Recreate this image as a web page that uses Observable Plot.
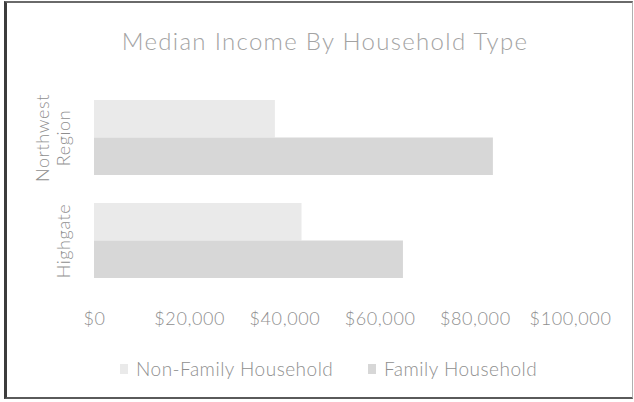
<!DOCTYPE html>
<html>
<head>
<meta charset="utf-8">
<script src="https://cdn.jsdelivr.net/npm/d3@7"></script>
<script src="https://cdn.jsdelivr.net/npm/@observablehq/plot@0.6"></script>
<style>
  html, body { margin: 0; padding: 0; background: #fff; }
  #wrap { position: relative; width: 634px; height: 402px; overflow: hidden; }
  #frame { position: absolute; left: 4px; top: 1px; width: 629px; height: 398px; box-sizing: border-box;
           border-left: 3px solid #3c3c3c; border-top: 2px solid #6a6a6a; border-bottom: 2px solid #5a5a5a; border-right: 1px solid #b0b0b0; }
  #title { position: absolute; left: 0; top: 26px; width: 650px; text-align: center;
           font-family: Lato, "Open Sans", sans-serif; font-weight: 300; font-size: 24px; color: #a3a3a3; letter-spacing: 1.3px; }
  #chart { position: absolute; left: 0; top: 0; }
  .leg { position: absolute; top: 357px; font-family: Lato, "Open Sans", sans-serif; font-weight: 300; font-size: 19px; letter-spacing: 0.5px; color: #8f8f8f; white-space: nowrap; display: flex; align-items: center; }
  .sw { display: inline-block; width: 8px; height: 10px; margin-right: 8px; }
  #chart text { letter-spacing: 0.6px; }
</style>
</head>
<body>
<div id="wrap">
  <div id="frame"></div>
  <div id="chart"></div>
  <div id="title">Median Income By Household Type</div>
  <div id="legend"></div>
</div>
<script>
const regions = ["Northwest Region", "Highgate"];
const regionLabels = ["Northwest\nRegion", "Highgate"];
const series = ["Non-Family Household", "Family Household"];
const nonFamily = [38000, 43600];
const family = [83800, 64900];
const xTicks = [0, 20000, 40000, 60000, 80000, 100000];
const colors = ["#eaeaea", "#d7d7d7"];

const rows = regions.flatMap((r, i) => [
  {region: r, series: series[0], value: nonFamily[i]},
  {region: r, series: series[1], value: family[i]}
]);

const font = "Lato, 'Open Sans', sans-serif";

const chart = Plot.plot({
  width: 634,
  height: 340,
  marginTop: 84,
  marginBottom: 40,
  marginLeft: 0,
  marginRight: 0,
  style: {fontFamily: font, background: "transparent", overflow: "visible"},
  x: {domain: [0, 100000], range: [94, 570], axis: null},
  y: {domain: regions, range: [100, 278], paddingInner: 0.272, paddingOuter: 0, axis: null},
  color: {domain: series, range: colors},
  marks: [
    Plot.gridX(xTicks, {stroke: "#e3e3e3", strokeOpacity: 1, y1: 84, y2: 300}),
    Plot.barX(rows.filter(d => d.series === series[0]), {x: "value", y: "region", fill: "series", insetBottom: 37.5}),
    Plot.barX(rows.filter(d => d.series === series[1]), {x: "value", y: "region", fill: "series", insetTop: 37.5}),
    Plot.axisX(xTicks, {anchor: "bottom", tickSize: 0, tickPadding: 12, fontSize: 18, fill: "#8f8f8f",
      fontWeight: 300, tickFormat: d => "$" + d3.format(",")(d), label: null}),
    Plot.text(regions, {y: d => d, frameAnchor: "left", dx: 69, rotate: -90, text: (d, i) => regionLabels[i],
      lineAnchor: "bottom", textAnchor: "middle", fontSize: 18, fill: "#8f8f8f", fontWeight: 300, lineHeight: 1.15})
  ]
});
document.getElementById("chart").append(chart);

const leg = document.getElementById("legend");
const legLeft = [120, 368];
series.forEach((s, i) => {
  const item = document.createElement("div");
  item.className = "leg";
  item.style.left = legLeft[i] + "px";
  const sw = document.createElement("span");
  sw.className = "sw";
  sw.style.background = colors[i];
  item.append(sw, document.createTextNode(s));
  leg.append(item);
});
</script>
</body>
</html>
